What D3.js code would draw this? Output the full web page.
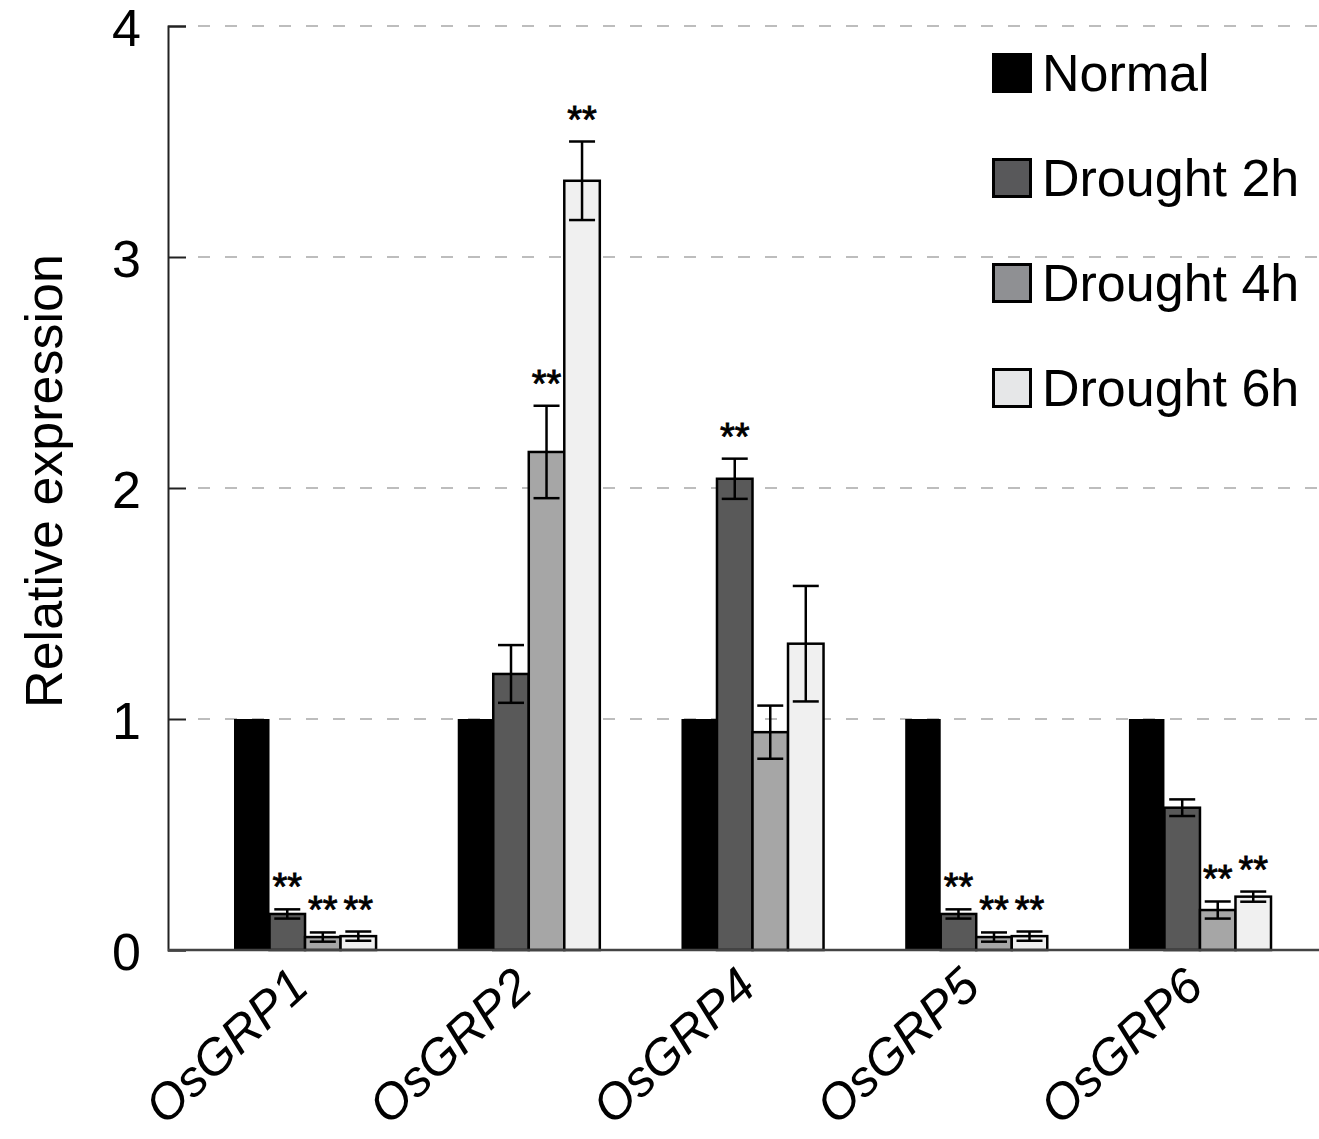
<!DOCTYPE html>
<html>
<head>
<meta charset="utf-8">
<script src="https://cdn.jsdelivr.net/npm/d3@7"></script>
<style>
  body { margin: 0; background: #fff; }
  text { font-family: "Liberation Sans", Arial, sans-serif; fill: #000; }
</style>
</head>
<body>
<div id="chart"></div>
<script>
var genes = ["OsGRP1", "OsGRP2", "OsGRP4", "OsGRP5", "OsGRP6"];
var seriesNames = ["Normal", "Drought 2h", "Drought 4h", "Drought 6h"];

var normal    = [1, 1, 1, 1, 1];
var drought2h = [0.156, 1.195, 2.04, 0.156, 0.616];
var drought4h = [0.056, 2.156, 0.943, 0.056, 0.173];
var drought6h = [0.06, 3.33, 1.326, 0.06, 0.231];

var errNormal = [0, 0, 0, 0, 0];
var err2h = [0.02, 0.125, 0.087, 0.02, 0.036];
var err4h = [0.02, 0.2, 0.115, 0.02, 0.037];
var err6h = [0.02, 0.17, 0.25, 0.02, 0.022];

var sigNormal = [false, false, false, false, false];
var sig2h = [true, false, true, true, false];
var sig4h = [true, true, false, true, true];
var sig6h = [true, true, false, true, true];

var yTicks = [0, 1, 2, 3, 4];

var barColors = ["#000000", "#595959", "#a6a6a6", "#f0f0f0"];
var legendColors = ["#000000", "#58585a", "#8f9093", "#e6e7e8"];

var svgWidth = 1319;
var svgHeight = 1139;

var svg = d3.select("#chart")
  .append("svg")
  .attr("width", svgWidth)
  .attr("height", svgHeight);

// build rows for each bar
var values = [normal, drought2h, drought4h, drought6h];
var errs = [errNormal, err2h, err4h, err6h];
var sigs = [sigNormal, sig2h, sig4h, sig6h];
var bars = [];
genes.forEach(function(g, i) {
  seriesNames.forEach(function(s, j) {
    bars.push({gene: g, series: s, idx: j, value: values[j][i], err: errs[j][i], sig: sigs[j][i]});
  });
});

// scales
var xScale = d3.scaleBand()
  .domain(genes)
  .range([234, 1271])
  .paddingInner(0.365)
  .paddingOuter(0);

var xInner = d3.scaleBand()
  .domain(seriesNames)
  .range([0, xScale.bandwidth()])
  .padding(0);

var yScale = d3.scaleLinear()
  .domain([0, 4])
  .range([950, 26]);

var axisX = 168;

// gridlines
svg.append("g")
  .selectAll("line")
  .data(yTicks.filter(d => d > 0))
  .enter()
  .append("line")
  .attr("x1", axisX + 30)
  .attr("x2", svgWidth)
  .attr("y1", d => yScale(d))
  .attr("y2", d => yScale(d))
  .attr("stroke", "#a8a8a8")
  .attr("stroke-width", 1.5)
  .attr("stroke-dasharray", "12,15");

// y axis (ticks point inward)
var yAxis = d3.axisRight(yScale)
  .tickValues(yTicks)
  .tickSize(18)
  .tickFormat("");

var yAxisG = svg.append("g")
  .attr("transform", `translate(${axisX}, 0)`)
  .call(yAxis);
yAxisG.select(".domain").attr("stroke", "#222").attr("stroke-width", 2);
yAxisG.selectAll(".tick line").attr("stroke", "#222").attr("stroke-width", 2);

svg.append("g")
  .selectAll("text")
  .data(yTicks)
  .enter()
  .append("text")
  .attr("x", 141)
  .attr("y", d => yScale(d) + 2)
  .attr("dy", "0.35em")
  .attr("text-anchor", "end")
  .style("font-size", "52px")
  .text(d => d);

// y title
svg.append("text")
  .attr("transform", `translate(62, ${yScale(2) - 7}) rotate(-90)`)
  .attr("text-anchor", "middle")
  .style("font-size", "52px")
  .text("Relative expression");

// bars
svg.append("g")
  .selectAll("rect")
  .data(bars)
  .enter()
  .append("rect")
  .attr("x", d => xScale(d.gene) + xInner(d.series))
  .attr("y", d => yScale(d.value))
  .attr("width", xInner.bandwidth())
  .attr("height", d => yScale(0) - yScale(d.value))
  .attr("fill", d => barColors[d.idx])
  .attr("stroke", "#000")
  .attr("stroke-width", d => d.idx === 0 ? 0 : 2.5);

// error bars
var errBars = bars.filter(d => d.err > 0);
var eb = svg.append("g")
  .attr("stroke", "#000")
  .attr("stroke-width", 2.5)
  .selectAll("g")
  .data(errBars)
  .enter()
  .append("g")
  .attr("transform", d => `translate(${xScale(d.gene) + xInner(d.series) + xInner.bandwidth() / 2}, 0)`);

eb.append("line")
  .attr("x1", 0).attr("x2", 0)
  .attr("y1", d => yScale(d.value + d.err))
  .attr("y2", d => yScale(Math.max(0, d.value - d.err)));
eb.append("line")
  .attr("x1", -13).attr("x2", 13)
  .attr("y1", d => yScale(d.value + d.err))
  .attr("y2", d => yScale(d.value + d.err));
eb.append("line")
  .attr("x1", -13).attr("x2", 13)
  .attr("y1", d => yScale(Math.max(0, d.value - d.err)))
  .attr("y2", d => yScale(Math.max(0, d.value - d.err)));

// significance stars
svg.append("g")
  .selectAll("text")
  .data(bars.filter(d => d.sig))
  .enter()
  .append("text")
  .attr("x", d => xScale(d.gene) + xInner(d.series) + xInner.bandwidth() / 2)
  .attr("y", d => yScale(d.value + d.err) - 9)
  .attr("text-anchor", "middle")
  .style("font-size", "38px")
  .style("stroke", "#000")
  .style("stroke-width", 0.9)
  .text("**");

// x axis line
svg.append("line")
  .attr("x1", axisX)
  .attr("x2", svgWidth)
  .attr("y1", yScale(0))
  .attr("y2", yScale(0))
  .attr("stroke", "#444")
  .attr("stroke-width", 2.5);

// x labels
svg.append("g")
  .selectAll("text")
  .data(genes)
  .enter()
  .append("text")
  .attr("transform", d => `translate(${xScale(d) + xScale.bandwidth() / 2 + 6}, ${yScale(0) + 40}) rotate(-43)`)
  .attr("text-anchor", "end")
  .style("font-size", "50px")
  .style("font-style", "italic")
  .text(d => d);

// legend
var legend = svg.append("g")
  .selectAll("g")
  .data(seriesNames)
  .enter()
  .append("g")
  .attr("transform", (d, i) => `translate(992, ${53 + i * 105})`);

legend.append("rect")
  .attr("x", 1.5)
  .attr("y", 1.5)
  .attr("width", 37)
  .attr("height", 37)
  .attr("fill", (d, i) => legendColors[i])
  .attr("stroke", "#000")
  .attr("stroke-width", 3);

legend.append("text")
  .attr("x", 50)
  .attr("y", 38)
  .style("font-size", "52px")
  .text(d => d);
</script>
</body>
</html>
